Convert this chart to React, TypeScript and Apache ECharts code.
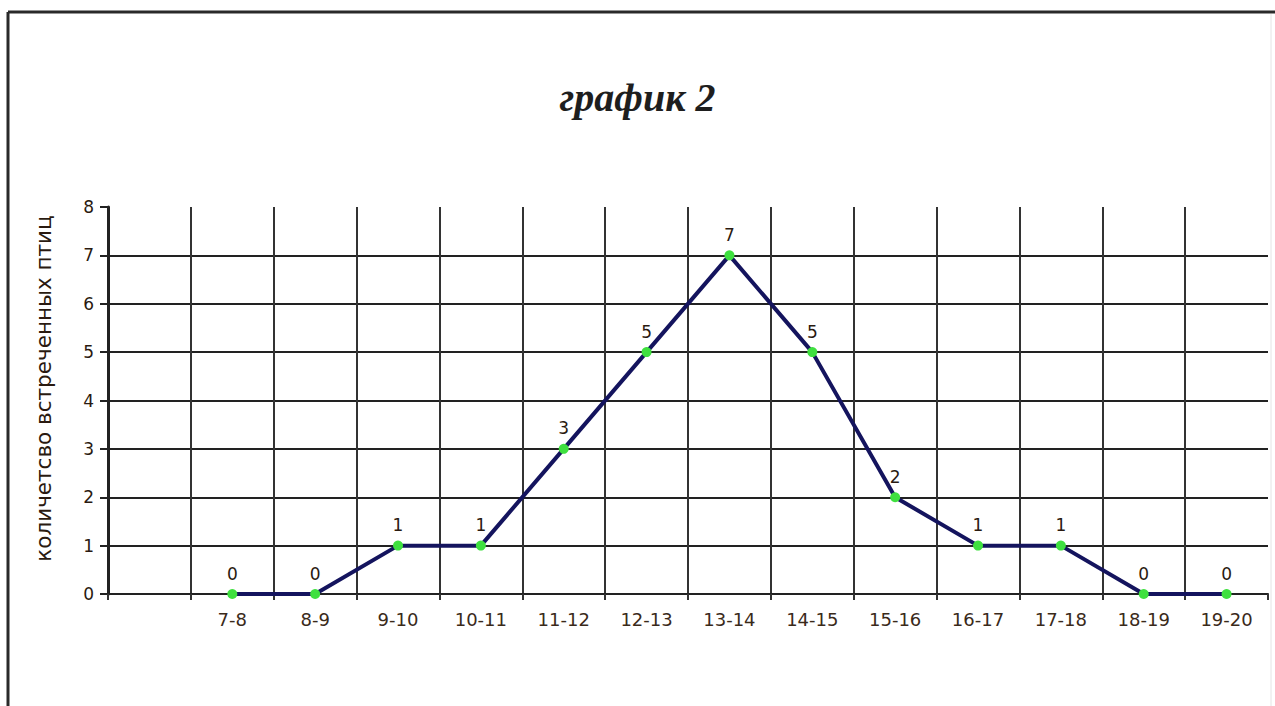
import React, { useEffect, useRef } from "react";
import * as echarts from "echarts";

const titleText = "график 2";
const yAxisName = "количетсво встреченных птиц";
const categories = ["7-8", "8-9", "9-10", "10-11", "11-12", "12-13", "13-14", "14-15", "15-16", "16-17", "17-18", "18-19", "19-20"];
const birdCounts = [0, 0, 1, 1, 3, 5, 7, 5, 2, 1, 1, 0, 0];
const yTicks = { min: 0, max: 8, interval: 1 };

export default function App() {
  const ref = useRef<HTMLDivElement>(null);
  useEffect(() => {
    if (!ref.current) return;
    const chart = echarts.init(ref.current, null, { renderer: "svg" });
    const axisData = ["", ...categories];
    const seriesData: (number | null)[] = [null, ...birdCounts];
    const ySplitCount = (yTicks.max - yTicks.min) / yTicks.interval + 1;
    const yColors = Array.from({ length: ySplitCount }, (_, i) => (i === ySplitCount - 1 ? "rgba(0,0,0,0)" : "#222"));
    const xSplitCount = axisData.length + 1;
    const xColors = Array.from({ length: xSplitCount }, (_, i) => (i === xSplitCount - 1 ? "rgba(0,0,0,0)" : "#333"));
    chart.setOption({
      animation: false,
      backgroundColor: "#ffffff",
      title: {
        text: titleText,
        left: "center",
        top: 72,
        textStyle: {
          fontFamily: "Liberation Serif",
          fontStyle: "italic",
          fontWeight: "bold",
          fontSize: 40,
          color: "#1e1e1e",
        },
      },
      graphic: [
        { type: "line", shape: { x1: 8, y1: 12, x2: 1275, y2: 12 }, style: { stroke: "#2a2a2a", lineWidth: 3 } },
        { type: "line", shape: { x1: 8, y1: 12, x2: 8, y2: 706 }, style: { stroke: "#2a2a2a", lineWidth: 3 } },
        { type: "line", shape: { x1: 1271, y1: 14, x2: 1271, y2: 706 }, style: { stroke: "#e4e4e4", lineWidth: 1 } },
      ],
      grid: { left: 108, right: 7, top: 207, bottom: 112, containLabel: false },
      xAxis: {
        type: "category",
        data: axisData,
        boundaryGap: true,
        axisLine: { show: true, lineStyle: { color: "#222", width: 2 } },
        axisTick: { show: true, interval: 0, length: 6, lineStyle: { color: "#333", width: 2 } },
        axisLabel: {
          interval: 0,
          margin: 16,
          fontFamily: "DejaVu Sans",
          fontSize: 18,
          color: "#3a2a1a",
        },
        splitLine: { show: true, interval: 0, lineStyle: { color: xColors, width: 2 } },
      },
      yAxis: {
        type: "value",
        min: yTicks.min,
        max: yTicks.max,
        interval: yTicks.interval,
        name: yAxisName,
        nameLocation: "middle",
        nameGap: 54,
        nameTextStyle: { fontFamily: "DejaVu Sans", fontSize: 21.5, color: "#2a1a10", padding: [0, 0, 0, 24] },
        axisLine: { show: true, lineStyle: { color: "#222", width: 3 } },
        axisTick: { show: true, length: 8, lineStyle: { color: "#222", width: 2 } },
        axisLabel: { margin: 14, fontFamily: "DejaVu Sans", fontSize: 17, color: "#2a1a10" },
        splitLine: {
          show: true,
          lineStyle: { color: yColors, width: 2 },
        },
      },
      series: [
        {
          type: "line",
          data: seriesData,
          connectNulls: false,
          symbol: "circle",
          symbolSize: 10,
          itemStyle: { color: "#3fe03f", borderWidth: 0 },
          lineStyle: { color: "#14145e", width: 4 },
          label: {
            show: true,
            position: "top",
            distance: 7,
            fontFamily: "DejaVu Sans",
            fontSize: 17,
            color: "#2a1a10",
          },
          z: 5,
        },
      ],
    });
    return () => chart.dispose();
  }, []);
  return <div ref={ref} style={{ position: "absolute", left: 0, top: 0, width: 1275, height: 706 }} />;
}
